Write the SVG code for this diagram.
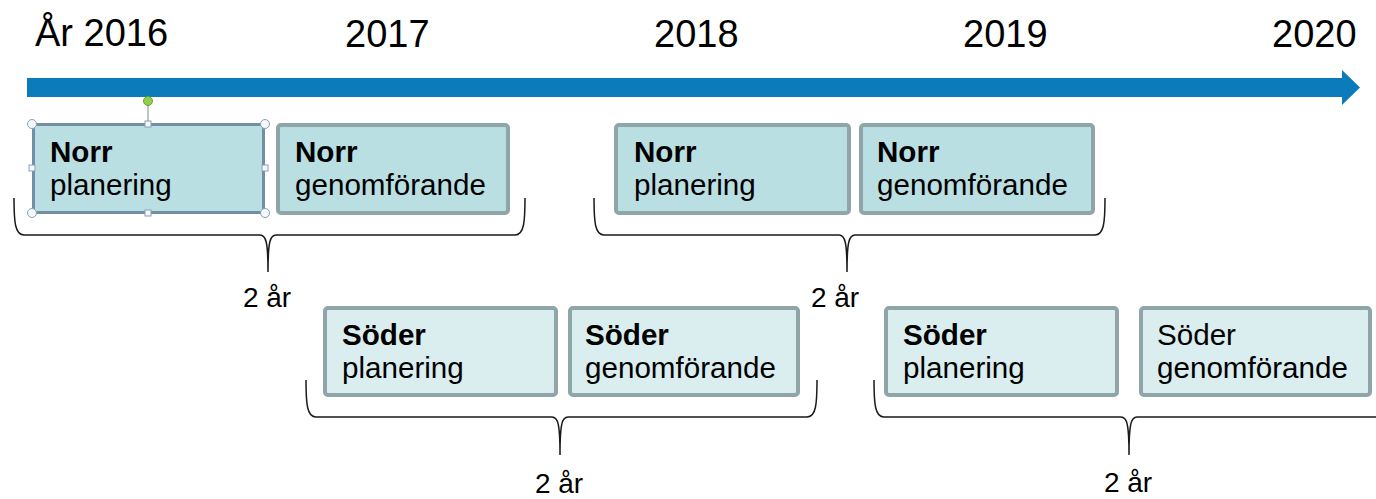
<svg xmlns="http://www.w3.org/2000/svg" width="1376" height="499" viewBox="0 0 1376 499">
<style>
.yr{font-family:"Liberation Sans",Arial,sans-serif;font-size:38px;fill:#000}
.t{font-family:"Liberation Sans",Arial,sans-serif;font-size:29.6px;fill:#000}
.b{font-weight:bold}
.lbl{font-family:"Liberation Sans",Arial,sans-serif;font-size:28px;fill:#000;text-anchor:middle}
.norr{fill:#badfe2;stroke:#8fa5a8;stroke-width:4}
.soder{fill:#daedef;stroke:#8fa5a8;stroke-width:4}
.brace{fill:none;stroke:#1a1a1a;stroke-width:1.5}
.hc{fill:#f4f8fb;stroke:#8aa0b5;stroke-width:1}
</style>
<rect width="1376" height="499" fill="#fff"/>
<g id="years">
<text class="yr" x="35" y="46">År 2016</text>
<text class="yr" x="345" y="47">2017</text>
<text class="yr" x="654" y="47">2018</text>
<text class="yr" x="963" y="47">2019</text>
<text class="yr" x="1272" y="47">2020</text>
</g>
<g id="timeline">
<path d="M27,78 L1342,78 L1342,70 L1360,87.5 L1342,105 L1342,97 L27,97 Z" fill="#0b7bbc"/>
</g>
<g id="norr-planering-1">
<rect x="33.5" y="124.5" width="230" height="88" rx="2" fill="#badfe2" stroke="#7190a4" stroke-width="3"/>
<text class="t b" x="50" y="162">Norr</text>
<text class="t" x="50" y="195">planering</text>
<g id="selection-handles">
<line x1="148" y1="105" x2="148" y2="121" stroke="#8aa0b5" stroke-width="1.2"/>
<circle cx="148" cy="101" r="4.5" fill="#8fd14f" stroke="#6a9a3a" stroke-width="1"/>
<circle class="hc" cx="32" cy="124" r="4.5"/>
<circle class="hc" cx="265" cy="124" r="4.5"/>
<circle class="hc" cx="32" cy="213" r="4.5"/>
<circle class="hc" cx="265" cy="213" r="4.5"/>
<rect class="hc" x="145" y="121" width="6" height="6"/>
<rect class="hc" x="145" y="210" width="6" height="6"/>
<rect class="hc" x="29" y="165" width="6" height="6"/>
<rect class="hc" x="262" y="165" width="6" height="6"/>
</g>
</g>
<g id="norr-genomforande-1">
<rect class="norr" x="278" y="125" width="230" height="88" rx="3"/>
<text class="t b" x="295" y="162">Norr</text>
<text class="t" x="295" y="195">genomförande</text>
</g>
<g id="norr-planering-2">
<rect class="norr" x="616" y="125" width="233" height="88" rx="3"/>
<text class="t b" x="634" y="162">Norr</text>
<text class="t" x="634" y="195">planering</text>
</g>
<g id="norr-genomforande-2">
<rect class="norr" x="861" y="125" width="232" height="88" rx="3"/>
<text class="t b" x="877" y="162">Norr</text>
<text class="t" x="877" y="195">genomförande</text>
</g>
<g id="soder-planering-1">
<rect class="soder" x="325" y="308" width="231" height="87" rx="3"/>
<text class="t b" x="342" y="345">Söder</text>
<text class="t" x="342" y="378">planering</text>
</g>
<g id="soder-genomforande-1">
<rect class="soder" x="570" y="308" width="228" height="87" rx="3"/>
<text class="t b" x="585" y="345">Söder</text>
<text class="t" x="585" y="378">genomförande</text>
</g>
<g id="soder-planering-2">
<rect class="soder" x="886" y="308" width="231" height="87" rx="3"/>
<text class="t b" x="903" y="345">Söder</text>
<text class="t" x="903" y="378">planering</text>
</g>
<g id="soder-genomforande-2">
<rect class="soder" x="1141" y="308" width="229" height="87" rx="3"/>
<text class="t" x="1157" y="345">Söder</text>
<text class="t" x="1157" y="378">genomförande</text>
</g>
<g id="connectors">
<path class="brace" d="M14,198 C14,222 15,235 24,235 L260,235 C266,235 268,242 268,272 C268,242 270,235 276,235 L515,235 C524,235 525,222 525,198"/>
<path class="brace" d="M594,198 C594,222 595,235 604,235 L839,235 C845,235 847,242 847,272 C847,242 849,235 855,235 L1095,235 C1104,235 1105,222 1105,198"/>
<path class="brace" d="M306,380 C306,404 307,417 316,417 L552,417 C558,417 560,424 560,455 C560,424 562,417 568,417 L807,417 C816,417 817,404 817,380"/>
<path class="brace" d="M874,380 C874,404 875,417 884,417 L1121,417 C1127,417 1129,424 1129,455 C1129,424 1131,417 1137,417 L1375,417 C1384,417 1385,404 1385,380"/>
</g>
<g id="labels">
<text class="lbl" x="267" y="307">2 år</text>
<text class="lbl" x="835" y="307">2 år</text>
<text class="lbl" x="559" y="493">2 år</text>
<text class="lbl" x="1128" y="492">2 år</text>
</g>
</svg>
